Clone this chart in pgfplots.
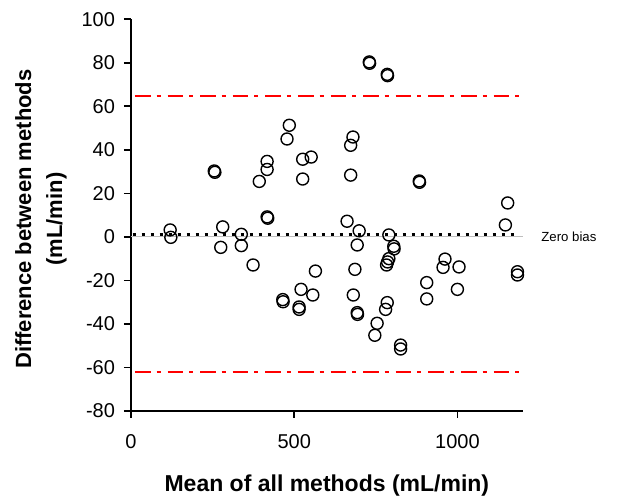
\documentclass[border=0pt]{standalone}
\usepackage{fontspec}
\setmainfont{Liberation Sans}
\usepackage{pgfplots}
\pgfplotsset{compat=1.18}
\definecolor{zerogray}{RGB}{190,190,190}

\begin{document}
\begin{tikzpicture}
\begin{axis}[
  at={(0,0)}, anchor=south west,
  scale only axis,
  width=195.85pt, height=195.85pt,
  xmin=0, xmax=1200, ymin=-80, ymax=100,
  axis x line*=bottom, axis y line*=left,
  axis line style={line width=0.85pt, -},
  xtick={0,500,1000},
  ytick={-80,-60,...,100},
  tick align=outside,
  major tick length=3.5pt,
  tick style={line width=0.85pt, black},
  /pgf/number format/assume math mode=true,
  /pgf/number format/1000 sep={},
  xticklabel style={font=\fontsize{10}{12}\selectfont, yshift=-4.5pt},
  yticklabel style={font=\fontsize{10}{12}\selectfont, xshift=-1pt},
  xlabel={Mean of all methods (mL/min)},
  xlabel style={font=\bfseries\fontsize{11.5}{13}\selectfont,
    at={(axis description cs:0.5,-0.19)}, anchor=center},
  ylabel={Difference between methods\\(mL/min)},
  ylabel style={font=\bfseries\fontsize{11}{15.5}\selectfont, align=center,
    at={(axis description cs:-0.23,0.49)}, anchor=center},
  clip=false,
]
% zero line
\addplot[zerogray, line width=0.5pt] coordinates {(0,0) (1200,0)};
% mean bias
\addplot[black, line width=1.6pt, dash pattern=on 1.6pt off 2.9pt]
  coordinates {(5,1.2) (1190,1.2)};
% limits of agreement
\addplot[red, line width=1.1pt, dash pattern=on 7.8pt off 3pt on 2pt off 3.5pt]
  coordinates {(12,64.8) (1200,64.8)};
\addplot[red, line width=1.1pt, dash pattern=on 7.8pt off 3pt on 2pt off 3.5pt]
  coordinates {(12,-61.9) (1200,-61.9)};
% differences
\addplot[only marks, mark=o, mark size=3pt, mark options={line width=0.7pt, black}]
  coordinates {
  (120,3.2) (122,-0.2)
  (255,30.3) (257,29.7)
  (275,-4.8) (281,4.6)
  (338,1.2) (338,-4)
  (374,-12.9) (393,25.5)
  (417,34.7) (417,31) (417,9.2) (419,8.6)
  (465,-28.8) (466,-29.8)
  (478,45) (485,51.3)
  (515,-32.2) (515,-33.3)
  (521,-24.1) (526,35.7) (526,26.6) (552,36.7)
  (557,-26.7) (565,-15.7)
  (662,7.2) (673,42.1) (680,45.9) (673,28.4)
  (686,-14.9) (681,-26.7) (693,-3.7) (699,2.8)
  (693,-34.8) (694,-35.6)
  (730,80.4) (731,79.8)
  (747,-45.2) (754,-39.7)
  (785,74.7) (786,74.1)
  (785,-30.2) (780,-33.3)
  (790,0.9) (790,-10) (786,-11.5) (783,-12.9)
  (805,-4.3) (806,-5.5)
  (826,-49.7) (826,-51.5)
  (883,25.7) (884,25.1)
  (906,-21) (906,-28.5)
  (962,-10.2) (956,-14)
  (1005,-13.8) (1000,-24.1)
  (1147,5.5) (1154,15.6)
  (1184,-16) (1184,-17.5)
  };
\node[anchor=west, inner sep=0pt, font=\fontsize{6.6}{8}\selectfont]
  at (axis cs:1256,0) {Zero bias};
\end{axis}
\pgfresetboundingbox
\path[use as bounding box] (-65.5pt,-44pt) rectangle (243.5pt,205.5pt);
\end{tikzpicture}
\end{document}
